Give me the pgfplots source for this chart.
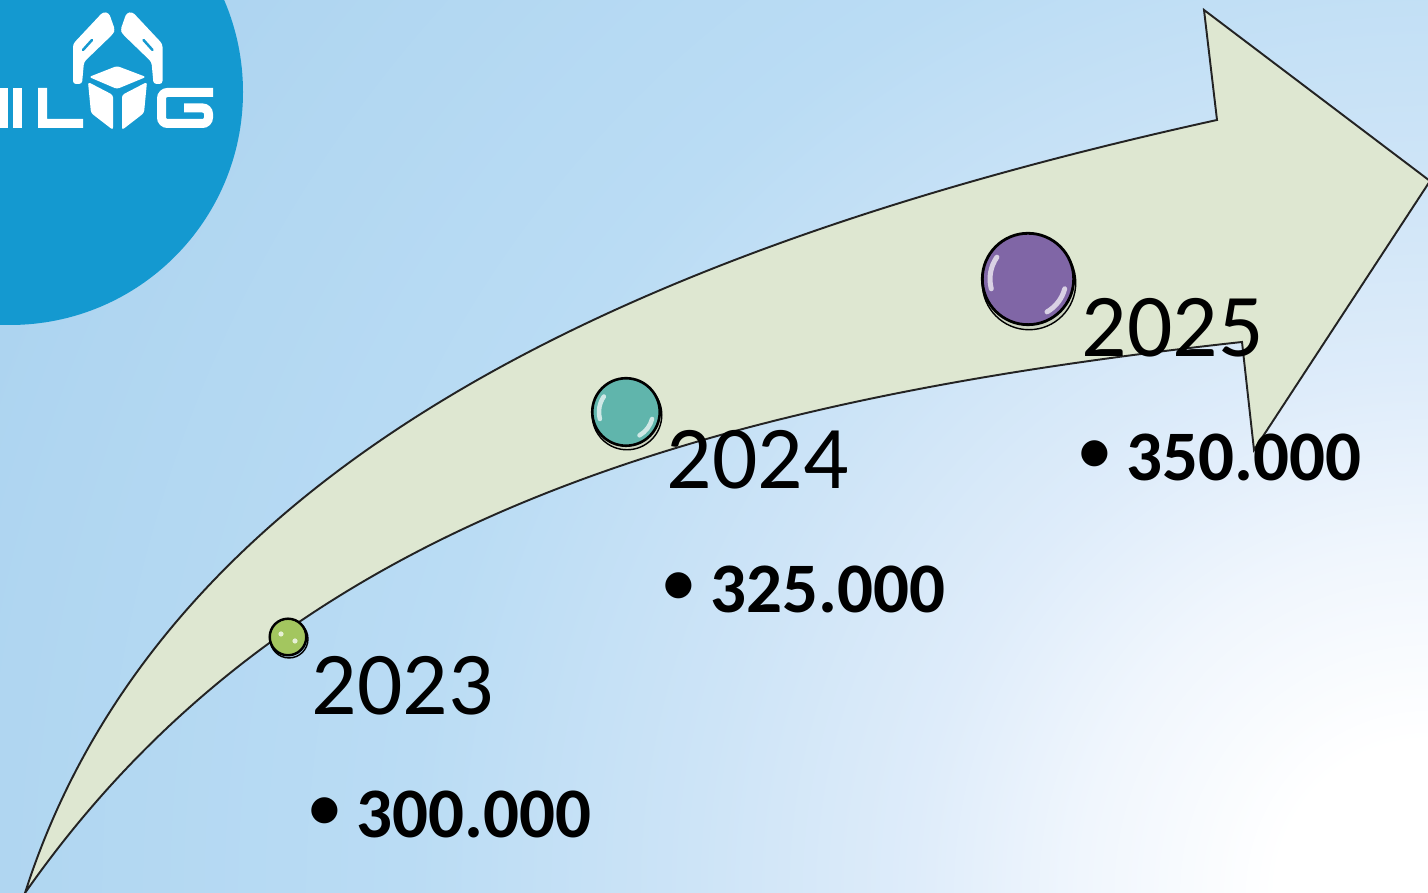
\documentclass[border=0pt]{standalone}
\usepackage{pgfplots}
\pgfplotsset{compat=1.18}
\usepackage{fontspec}
\setmainfont{Carlito}
\definecolor{logoblue}{RGB}{20,153,208}
\definecolor{arrowfill}{RGB}{222,231,209}
\definecolor{edge}{RGB}{35,35,35}
\definecolor{cgreen}{RGB}{163,198,95}
\definecolor{cteal}{RGB}{96,181,172}
\definecolor{cpurple}{RGB}{128,102,166}
\definecolor{bgA}{RGB}{255,255,255}
\definecolor{bgB}{RGB}{240,246,253}
\definecolor{bgC}{RGB}{222,236,250}
\definecolor{bgD}{RGB}{205,228,247}
\definecolor{bgE}{RGB}{186,220,244}
\definecolor{bgF}{RGB}{176,214,241}
\definecolor{bgG}{RGB}{168,209,239}
\pgfdeclareradialshading{bgshade}{\pgfpoint{0bp}{0bp}}{color(0bp)=(bgA); color(2.2bp)=(bgA); color(5.1bp)=(bgB); color(7.6bp)=(bgC); color(10.8bp)=(bgD); color(15bp)=(bgE); color(21bp)=(bgF); color(25bp)=(bgG); color(50bp)=(bgG)}
\begin{document}
\begin{tikzpicture}
% background, logo and arrow shape, in pixel coordinates (y down)
\begin{scope}[x=0.1mm,y=-0.1mm,yshift=89.3mm]
\clip (0,0) rectangle (1428,893);
\shade[shading=bgshade] (1428,893) circle (1700);
\fill[logoblue] (10,92) circle (233);
\fill[white] (0,88) rectangle (8,128);
\fill[white] (13,88) rectangle (22,128);
\fill[white] (38,88) -- (47,88) -- (47,119) -- (83,119) -- (83,128) -- (38,128) -- cycle;
\draw[white, line width=0.9mm, rounded corners=0.6mm] (213,92.5) -- (161.5,92.5) -- (161.5,123.5) -- (208.5,123.5) -- (208.5,108) -- (184,108);
\fill[white, rounded corners=0.3mm] (73,84) -- (73,44) -- (103,12) -- (109,13) -- (115,30) -- (113,34) -- (84,62) -- (82,84) -- cycle;
\fill[white, rounded corners=0.3mm] (162.5,84) -- (162.5,44) -- (132.5,12) -- (126.5,13) -- (120.5,30) -- (122.5,34) -- (151.5,62) -- (153.5,84) -- cycle;
\draw[logoblue, line width=0.25mm, line cap=round] (83,50) -- (92,40);
\draw[logoblue, line width=0.25mm, line cap=round] (152.5,50) -- (143.5,40);
\fill[white, rounded corners=0.25mm] (117,66) -- (146,77) -- (117,89) -- (89,77) -- cycle;
\fill[white, rounded corners=0.25mm] (88,82) -- (113,95) -- (113,130) -- (91,113) -- cycle;
\fill[white, rounded corners=0.25mm] (147,82) -- (122,95) -- (122,130) -- (144,113) -- cycle;
% arrow
\draw[fill=arrowfill, draw=edge, line width=0.55pt, line join=miter]
  (25,893) .. controls (162,465) and (631,249) .. (1217,120)
  -- (1204,10) -- (1430,181) -- (1254,450) -- (1242,342)
  .. controls (695,402) and (283,524) .. (25,893) -- cycle;
\end{scope}

\begin{axis}[at={(0,0)}, anchor=south west, hide axis, scale only axis,
  width=142.8mm, height=89.3mm, xmin=0, xmax=1428, ymin=0, ymax=893,
  y dir=reverse, clip=false]
% soft shadows
\addplot[only marks, mark=*, mark size=5.4pt, mark options={fill=black, draw=none, fill opacity=0.08}] coordinates {(289,639)};
\addplot[only marks, mark=*, mark size=9.9pt, mark options={fill=black, draw=none, fill opacity=0.08}] coordinates {(627,415)};
\addplot[only marks, mark=*, mark size=13.3pt, mark options={fill=black, draw=none, fill opacity=0.08}] coordinates {(1029,283)};
% milestones
\addplot[only marks, mark=*, mark size=5.2pt, mark options={fill=cgreen, draw=black, line width=0.7pt}] coordinates {(288,637)};
\addplot[only marks, mark=*, mark size=9.6pt, mark options={fill=cteal, draw=black, line width=0.75pt}] coordinates {(626,412)};
\addplot[only marks, mark=*, mark size=13.0pt, mark options={fill=cpurple, draw=black, line width=0.8pt}] coordinates {(1028,279)};
% labels
\node[anchor=base west, inner sep=0pt, font=\fontsize{25.5pt}{30pt}\selectfont] at (axis cs:311,715) {2023};
\node[anchor=base west, inner sep=0pt, font=\fontsize{25.5pt}{30pt}\selectfont] at (axis cs:666,489) {2024};
\node[anchor=base west, inner sep=0pt, font=\fontsize{25.5pt}{30pt}\selectfont] at (axis cs:1081,357) {2025};
\node[anchor=center, inner sep=0pt, font=\fontsize{21pt}{24pt}\selectfont] at (axis cs:325,815) {•};
\node[anchor=center, inner sep=0pt, font=\fontsize{21pt}{24pt}\selectfont] at (axis cs:679,590) {•};
\node[anchor=center, inner sep=0pt, font=\fontsize{21pt}{24pt}\selectfont] at (axis cs:1095,458) {•};
\node[anchor=base west, inner sep=0pt, font=\fontsize{20.2pt}{24pt}\selectfont\bfseries] at (axis cs:356,838) {300.000};
\node[anchor=base west, inner sep=0pt, font=\fontsize{20.2pt}{24pt}\selectfont\bfseries] at (axis cs:710,613) {325.000};
\node[anchor=base west, inner sep=0pt, font=\fontsize{20.2pt}{24pt}\selectfont\bfseries] at (axis cs:1126,481) {350.000};
\end{axis}

% gloss highlights, pixel coordinates
\begin{scope}[x=0.1mm,y=-0.1mm,yshift=89.3mm]
\fill[white, opacity=0.75] (281,634) circle (2.6);
\fill[white, opacity=0.75] (295,641) circle (2.6);
\draw[white, opacity=0.7, line width=0.45mm, line cap=round] (626,412) ++(165:27) arc[start angle=165, end angle=215, radius=27];
\draw[white, opacity=0.7, line width=0.45mm, line cap=round] (626,412) ++(15:27) arc[start angle=15, end angle=60, radius=27];
\draw[white, opacity=0.7, line width=0.5mm, line cap=round] (1028,279) ++(165:38) arc[start angle=165, end angle=215, radius=38];
\draw[white, opacity=0.7, line width=0.5mm, line cap=round] (1028,279) ++(15:38) arc[start angle=15, end angle=60, radius=38];
\end{scope}
\pgfresetboundingbox
\useasboundingbox (0,0) rectangle (142.8mm,89.3mm);
\end{tikzpicture}
\end{document}
